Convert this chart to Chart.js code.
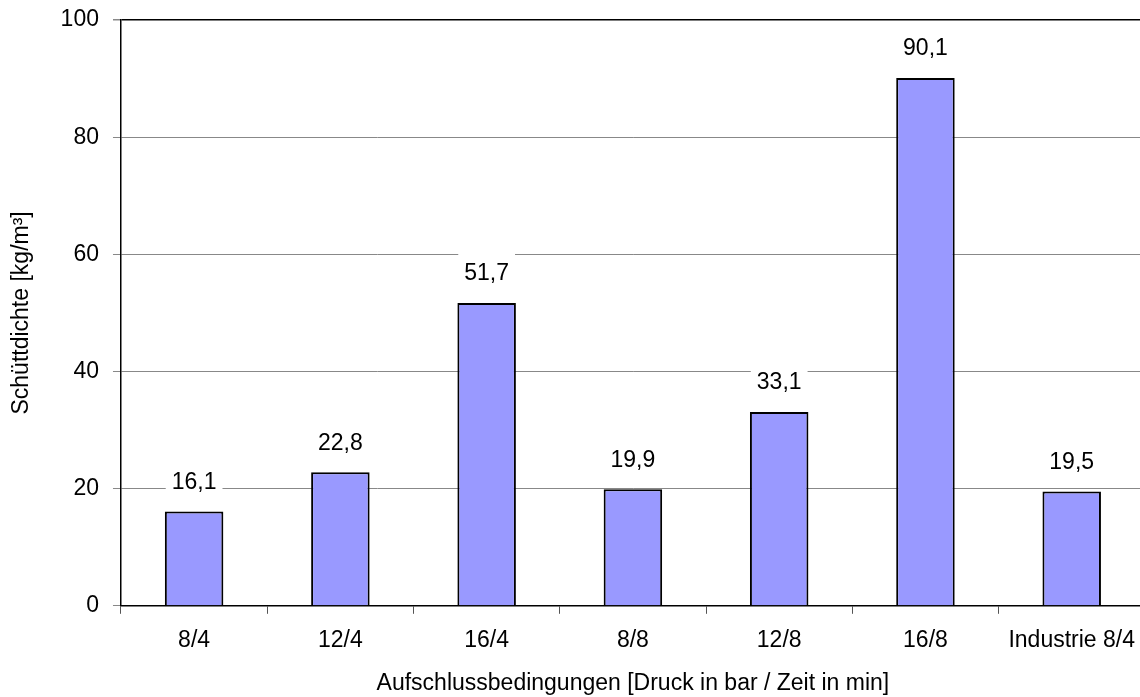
<!DOCTYPE html>
<html>
<head>
<meta charset="utf-8">
<script src="https://cdn.jsdelivr.net/npm/chart.js@4/dist/chart.umd.min.js"></script>
<style>
  html, body { margin: 0; padding: 0; background: #fff; overflow: hidden; }
  /* Die Zeichenfläche ragt rechts etwas über den sichtbaren Bereich hinaus */
  #wrap { width: 1140px; height: 697px; overflow: hidden; }
</style>
</head>
<body>
<div id="wrap"><canvas id="chart" width="1148" height="697"></canvas></div>
<script>
// Aufschlussbedingungen und gemessene Schüttdichte
const categories = ['8/4', '12/4', '16/4', '8/8', '12/8', '16/8', 'Industrie 8/4'];
const density = [16.1, 22.8, 51.7, 19.9, 33.1, 90.1, 19.5];
const yTicks = [0, 20, 40, 60, 80, 100];

const FONT = '"Liberation Sans", Arial, sans-serif';
const FSIZE = 23;

// Werte über den Balken, mit weißem Hintergrund (verdeckt die Gitterlinie)
const valueLabels = {
    id: 'valueLabels',
    afterDatasetsDraw(chart) {
        const ctx = chart.ctx;
        const meta = chart.getDatasetMeta(0);
        ctx.save();
        ctx.font = FSIZE + 'px ' + FONT;
        ctx.textAlign = 'center';
        ctx.textBaseline = 'middle';
        meta.data.forEach((bar, i) => {
            const txt = density[i].toFixed(1).replace('.', ',');
            const w = ctx.measureText(txt).width;
            const cy = bar.y - 29;
            ctx.fillStyle = '#fff';
            ctx.fillRect(bar.x - w / 2 - 6, cy - 22, w + 12, 32);
            ctx.fillStyle = '#000';
            ctx.fillText(txt, bar.x, cy);
        });
        ctx.restore();
    }
};

new Chart(document.getElementById('chart'), {
    type: 'bar',
    data: {
        labels: categories,
        datasets: [{
            data: density,
            backgroundColor: '#9999ff',
            borderColor: '#000',
            borderWidth: 2,
            categoryPercentage: 0.4,
            barPercentage: 1.0
        }]
    },
    options: {
        responsive: false,
        animation: false,
        layout: { padding: { top: 0, right: 0, left: 8, bottom: 0 } },
        plugins: {
            legend: { display: false },
            tooltip: { enabled: false }
        },
        scales: {
            x: {
                grid: {
                    offset: true,
                    drawOnChartArea: false,
                    drawTicks: true,
                    tickLength: 8,
                    tickColor: '#555'
                },
                border: { color: '#000', width: 1.5 },
                ticks: { color: '#000', font: { size: FSIZE, family: FONT }, padding: 13, maxRotation: 0 },
                title: {
                    display: true,
                    text: 'Aufschlussbedingungen [Druck in bar / Zeit in min]',
                    color: '#000',
                    font: { size: FSIZE, family: FONT },
                    padding: { top: 2, bottom: 0 }
                }
            },
            y: {
                min: 0,
                max: 100,
                afterBuildTicks(axis) {
                    axis.ticks = yTicks.map(v => ({ value: v }));
                },
                afterFit(axis) {
                    axis.paddingTop = 20;
                },
                grid: {
                    color: c => c.tick.value === 100 ? '#000' : '#888',
                    lineWidth: c => c.tick.value === 100 ? 1.5 : 1,
                    tickColor: '#888',
                    tickLength: 8
                },
                border: { color: '#000', width: 1.5 },
                ticks: { color: '#000', font: { size: FSIZE, family: FONT }, padding: 14 },
                title: {
                    display: true,
                    text: 'Schüttdichte [kg/m³]',
                    color: '#000',
                    font: { size: FSIZE, family: FONT },
                    padding: { top: 0, bottom: 11 }
                }
            }
        }
    },
    plugins: [valueLabels]
});
</script>
</body>
</html>
